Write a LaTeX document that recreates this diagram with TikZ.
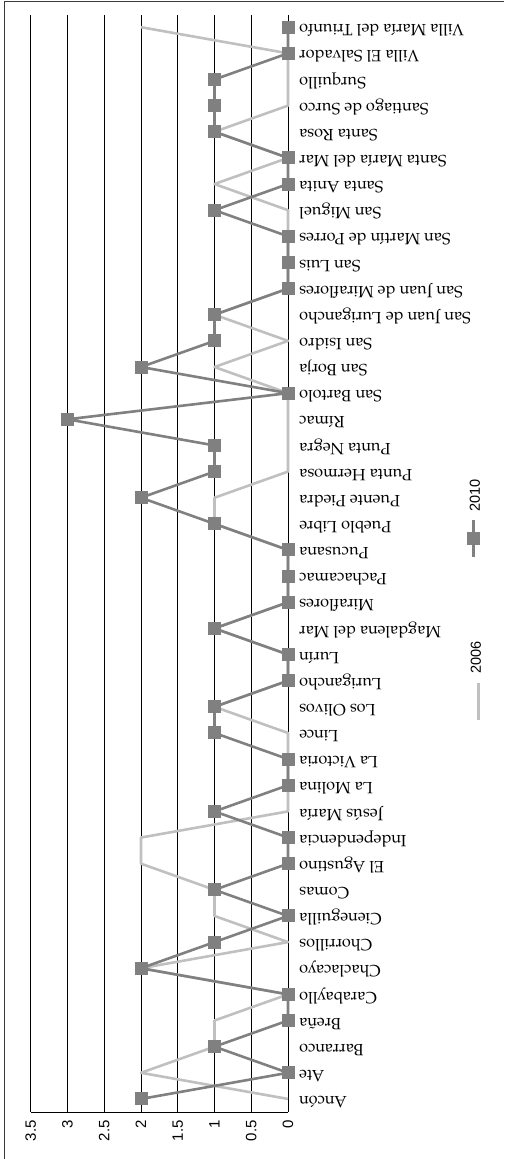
\documentclass[tikz,border=0pt]{standalone}
\usepackage{fontspec}
\setmainfont{TeX Gyre Pagella}
\newfontfamily\axisfont{Liberation Sans}
\definecolor{serA}{HTML}{C0C0C0}
\definecolor{serB}{HTML}{808080}
\definecolor{frameclr}{HTML}{3A3A3A}
\begin{document}
\begin{tikzpicture}[x=1pt,y=-1pt,
  gridln/.style={black, line width=0.8pt},
  frameln/.style={frameclr, line width=1pt},
  ser06/.style={serA, line width=2.6pt, line join=round},
  ser10/.style={serB, line width=2.6pt, line join=round},
  mk/.style={rectangle, fill=serB, draw=none, minimum size=13pt, inner sep=0pt},
  cat/.style={rotate=180, anchor=mid east, inner sep=0pt, font=\fontsize{16.3}{16.3}\selectfont},
  tick/.style={rotate=90, anchor=east, inner sep=0pt, font=\axisfont\fontsize{15}{15}\selectfont},
  leg/.style={rotate=90, anchor=west, inner sep=0pt, font=\axisfont\fontsize{14.5}{14.5}\selectfont}]
\useasboundingbox (0,0) rectangle (504,1159);
% frame
\draw[frameln] (4,1159) -- (4,1.5) -- (504,1.5);
% gridlines
\foreach \v/\t in {0/0,0.5/0.5,1/1,1.5/1.5,2/2,2.5/2.5,3/3,3.5/3.5}{
  \pgfmathsetmacro\xx{288-73.5*\v}
  \draw[gridln] (\xx,15) -- (\xx,1112);
  \node[tick] (t\t) at (\xx,1120) {\t};
}
\draw[gridln] (30.75,1112) -- (288,1112);
% categories
\foreach \name/\a/\b [count=\i from 0] in {Ancón/0/2, Ate/2/0, Barranco/1/1, Breña/1/0, Carabayllo/0/0, Chaclacayo/2/2, Chorrillos/0/1, Cieneguilla/1/0, Comas/1/1, El Agustino/2/0, Independencia/2/0, Jesús María/0/1, La Molina/0/0, La Victoria/0/0, Lince/0/1, Los Olivos/1/1, Lurigancho/0/0, Lurín/0/0, Magdalena del Mar/1/1, Miraflores/0/0, Pachacamac/0/0, Pucusana/0/0, Pueblo Libre/1/1, Puente Piedra/1/2, Punta Hermosa/0/1, Punta Negra/0/1, Rímac/0/3, San Bartolo/0/0, San Borja/1/2, San Isidro/0/1, San Juan de Lurigancho/1/1, San Juan de Miraflores/0/0, San Luis/0/0, San Martín de Porres/0/0, San Miguel/0/1, Santa Anita/1/0, Santa María del Mar/0/0, Santa Rosa/1/1, Santiago de Surco/0/1, Surquillo/0/1, Villa El Salvador/0/0, Villa María del Triunfo/2/0}{
  \pgfmathsetmacro\yy{1112-26.14*(\i+0.5)}
  \coordinate (p\i) at ({288-73.5*\a},\yy);
  \coordinate (q\i) at ({288-73.5*\b},\yy);
  \node[cat] (c\i) at (299,\yy) {\name};
}
% series 2006
\draw[ser06] (p0) \foreach \i in {1,...,41}{ -- (p\i)};
% series 2010
\draw[ser10] (q0) \foreach \i in {1,...,41}{ -- (q\i)};
\foreach \i in {0,...,41}{ \node[mk] (m\i) at (q\i) {}; }
% legend
\coordinate (l10a) at (473.5,520);
\coordinate (l10b) at (473.5,557);
\draw[ser10] (l10a) -- (l10b);
\node[mk] (lm10) at (473.5,538.3) {};
\node[leg] (lt10) at (475,512) {2010};
\coordinate (l06a) at (478.3,683);
\coordinate (l06b) at (478.3,720);
\draw[ser06] (l06a) -- (l06b);
\node[leg] (lt06) at (476,674) {2006};
\end{tikzpicture}
\end{document}
